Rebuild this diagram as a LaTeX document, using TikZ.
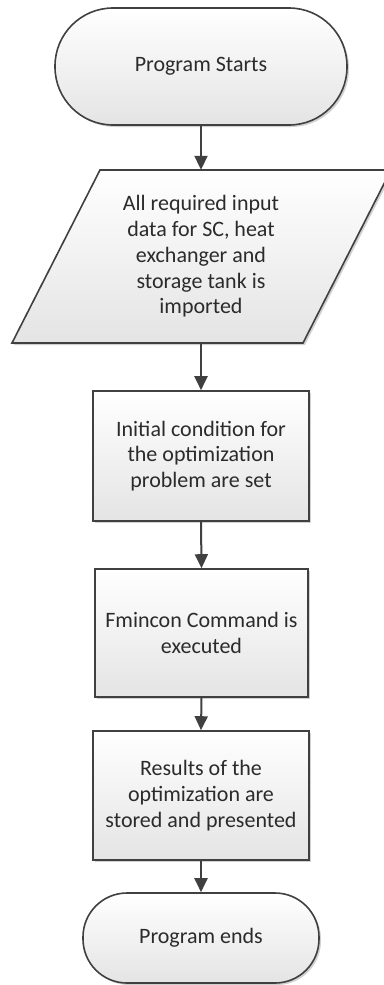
\documentclass[tikz,border=0pt]{standalone}
\usepackage{fontspec}
\setmainfont{Carlito}
\usetikzlibrary{arrows.meta,shadows}

\definecolor{edgegray}{HTML}{404040}
\definecolor{inkgray}{HTML}{2B2B2B}
\definecolor{fillbottom}{HTML}{E4E4E4}

\tikzset{
  boxlook/.style={draw=edgegray, line width=1.6pt, top color=white, bottom color=fillbottom,
    drop shadow={shadow xshift=2pt, shadow yshift=-2pt, opacity=0.18, fill=black}},
  txt/.style={text=inkgray, align=center, font=\fontsize{22}{25.8}\selectfont},
  procbox/.style={boxlook, txt, rectangle, inner sep=0pt},
  termbox/.style={boxlook, txt, rectangle, inner sep=0pt},
  flow/.style={draw=edgegray, line width=2pt, -{Triangle[length=14pt,width=13pt]}}
}

\begin{document}
\begin{tikzpicture}[x=1pt, y=-1pt]
\useasboundingbox (0,0) rectangle (383,985);

% start terminal
\node[termbox, minimum width=292pt, minimum height=117pt, rounded corners=58pt]
  (start) at (201,66.5) {Program Starts};

% input/output parallelogram
\path[boxlook] (100,170) -- (391,170) -- (303,343) -- (12,343) -- cycle;
\node[txt, minimum width=200pt, minimum height=173pt, inner sep=0pt]
  (input) at (201,256.5) {All required input\\data for SC, heat\\exchanger and\\storage tank is\\imported};

% process steps
\node[procbox, minimum width=216pt, minimum height=130pt]
  (init) at (201,456) {Initial condition for\\the optimization\\problem are set};
\node[procbox, minimum width=213pt, minimum height=128pt]
  (fmin) at (201.5,633) {Fmincon Command is\\executed};
\node[procbox, minimum width=216pt, minimum height=129pt]
  (res) at (201,795.5) {Results of the\\optimization are\\stored and presented};

% end terminal
\node[termbox, minimum width=236pt, minimum height=90pt, rounded corners=44pt]
  (stop) at (201,938) {Program ends};

% connectors
\draw[flow] (start.south) -- (input.north);
\draw[flow] (input.south) -- (init.north);
\draw[flow] (init.south) -- (fmin.north);
\draw[flow] (fmin.south) -- (res.north);
\draw[flow] (res.south) -- (stop.north);
\end{tikzpicture}
\end{document}
